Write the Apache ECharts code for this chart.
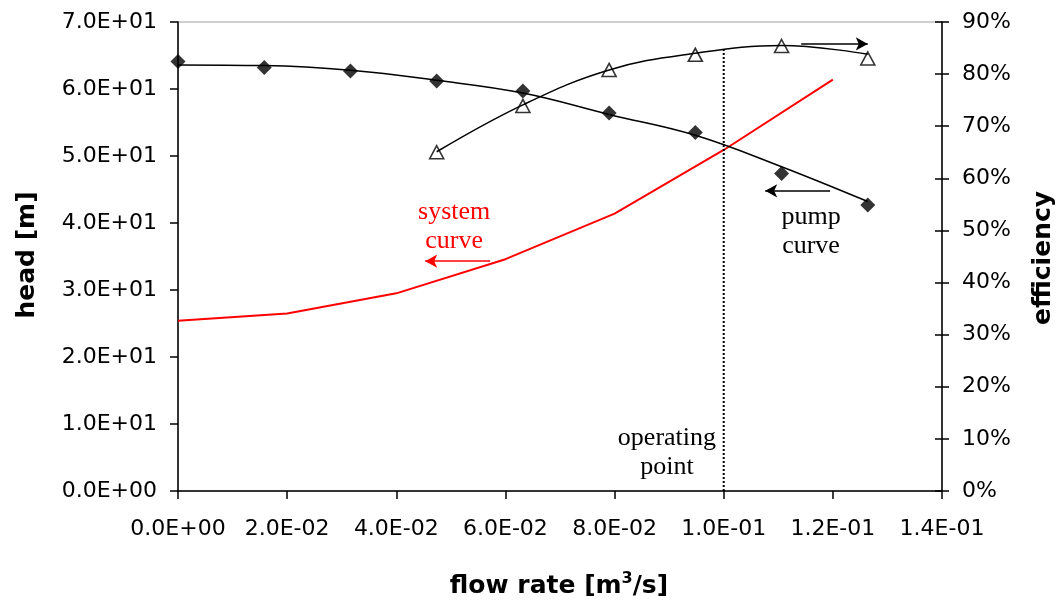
<!DOCTYPE html>
<html>
<head>
<meta charset="utf-8">
<script src="https://cdn.jsdelivr.net/npm/echarts@6/dist/echarts.min.js"></script>
<style>
html, body { margin: 0; background: #fff; }
#chart { width: 1061px; height: 607px; }
</style>
</head>
<body>
<div id="chart"></div>
<script>
// tick labels
const flowTicks = ['0.0E+00', '2.0E-02', '4.0E-02', '6.0E-02', '8.0E-02', '1.0E-01', '1.2E-01', '1.4E-01']
const headTicks = ['0.0E+00', '1.0E+01', '2.0E+01', '3.0E+01', '4.0E+01', '5.0E+01', '6.0E+01', '7.0E+01']
const effTicks = ['0%', '10%', '20%', '30%', '40%', '50%', '60%', '70%', '80%', '90%']

// pump curve (head, m)
const pumpFlow = [0, 0.0158, 0.0316, 0.0474, 0.0632, 0.079, 0.0948, 0.1106, 0.1264]
const pumpHead = [64.1, 63.2, 62.7, 61.2, 59.7, 56.4, 53.5, 47.4, 42.7]
const pumpTrend = [63.6, 63.5, 62.8, 61.3, 59.4, 56.2, 53.1, 48.4, 43.2]

// efficiency (%)
const effFlow = [0.0474, 0.0632, 0.079, 0.0948, 0.1106, 0.1264]
const effValue = [65.0, 73.9, 80.8, 83.7, 85.4, 83.0]
const effTrend = [65.1, 74.1, 80.8, 84.0, 85.5, 83.8]

// system curve (head, m)
const sysFlow = [0, 0.02, 0.04, 0.06, 0.08, 0.1, 0.12]
const sysHead = [25.4, 26.5, 29.5, 34.6, 41.4, 50.9, 61.4]

// operating point
const opFlow = 0.1
const opTop = 66.2

const zip = (xs, ys) => xs.map((x, i) => [x, ys[i]])

const sans = 'DejaVu Sans'
const serif = 'Liberation Serif'

let chart = echarts.init(document.getElementById('chart'))

const arrow = (from, to, color) => ({
    symbol: ['none', 'arrow'],
    symbolSize: [10, 12],
    silent: true,
    label: { show: false },
    lineStyle: { color: color, width: 1.6, type: 'solid' },
    data: [[{ coord: from }, { coord: to }]],
})

chart.setOption({
    animation: false,
    grid: {
        left: 178, right: 119, top: 22, bottom: 116,
        show: true, borderColor: '#a0a0a0', borderWidth: 1,
        outerBoundsMode: 'none',
    },
    xAxis: {
        type: 'value', min: 0, max: 0.14, interval: 0.02,
        axisLine: { lineStyle: { color: '#000', width: 1.5 }},
        axisTick: { length: 8, lineStyle: { color: '#000', width: 1.5 }},
        splitLine: { show: false },
        axisLabel: {
            margin: 27, color: '#000', fontFamily: sans, fontSize: 22,
            formatter: v => flowTicks[Math.round(v / 0.02)],
        },
    },
    yAxis: [{
        type: 'value', min: 0, max: 70, interval: 10,
        axisLine: { show: true, lineStyle: { color: '#000', width: 1.5 }},
        axisTick: { show: true, length: 8, lineStyle: { color: '#000', width: 1.5 }},
        splitLine: { show: false },
        axisLabel: {
            margin: 21, color: '#000', fontFamily: sans, fontSize: 22,
            formatter: v => headTicks[Math.round(v / 10)],
        },
    }, {
        type: 'value', position: 'right', min: 0, max: 90, interval: 10,
        axisLine: { show: true, lineStyle: { color: '#000', width: 1.5 }},
        axisTick: { show: true, length: 7, lineStyle: { color: '#000', width: 1.5 }},
        splitLine: { show: false },
        axisLabel: {
            margin: 20, color: '#000', fontFamily: sans, fontSize: 22,
            formatter: v => effTicks[Math.round(v / 10)],
        },
    }, {
        // inner half of the crossing ticks on the right axis
        type: 'value', position: 'right', min: 0, max: 90, interval: 10,
        axisLine: { show: false },
        axisTick: { show: true, inside: true, length: 7, lineStyle: { color: '#000', width: 1.5 }},
        splitLine: { show: false },
        axisLabel: { show: false },
    }],
    series: [{
        name: 'system curve',
        type: 'line',
        data: zip(sysFlow, sysHead),
        symbol: 'none',
        lineStyle: { color: '#ff0000', width: 2 },
        markLine: arrow([0.0572, 34.3], [0.0453, 34.3], '#ff0000'),
    }, {
        name: 'operating point',
        type: 'line',
        data: [[opFlow, 0], [opFlow, opTop]],
        symbol: 'none',
        lineStyle: { color: '#000', width: 2, type: 'dotted' },
    }, {
        name: 'pump trend',
        type: 'line',
        data: zip(pumpFlow, pumpTrend),
        smooth: 0.4,
        symbol: 'none',
        lineStyle: { color: '#000', width: 1.5 },
        markLine: arrow([0.1195, 44.8], [0.1076, 44.8], '#000'),
    }, {
        name: 'efficiency trend',
        type: 'line',
        yAxisIndex: 1,
        data: zip(effFlow, effTrend),
        smooth: 0.4,
        symbol: 'none',
        lineStyle: { color: '#000', width: 1.5 },
        markLine: arrow([0.1142, 85.8], [0.1264, 85.8], '#000'),
    }, {
        name: 'pump curve',
        type: 'scatter',
        data: zip(pumpFlow, pumpHead),
        symbol: 'diamond',
        symbolSize: [15, 15],
        itemStyle: { color: '#000' },
    }, {
        name: 'efficiency',
        type: 'scatter',
        yAxisIndex: 1,
        data: zip(effFlow, effValue),
        symbol: 'triangle',
        symbolSize: [14, 13],
        itemStyle: { color: '#fff', borderColor: '#000', borderWidth: 1.6 },
    }],
})

// annotations, anchored in data units (flow, head)
const notes = [
    { text: 'system\ncurve', at: [0.0506, 39.5], color: '#ff0000' },
    { text: 'pump\ncurve', at: [0.116, 38.7], color: '#000' },
    { text: 'operating\npoint', at: [0.0896, 5.7], color: '#000' },
]

let graphics = notes.map(n => {
    let p = chart.convertToPixel({ gridIndex: 0 }, n.at)
    return {
        type: 'text', x: p[0], y: p[1], silent: true,
        style: {
            text: n.text, fill: n.color, font: '26px ' + serif, lineHeight: 29,
            align: 'center', verticalAlign: 'middle',
        },
    }
})

graphics.push({
    type: 'text', x: 27, y: 255, rotation: Math.PI / 2, silent: true,
    style: {
        text: 'head [m]', fill: '#000', font: 'bold 25px ' + sans,
        align: 'center', verticalAlign: 'middle',
    },
}, {
    type: 'text', x: 1043, y: 258, rotation: Math.PI / 2, silent: true,
    style: {
        text: 'efficiency', fill: '#000', font: 'bold 25px ' + sans,
        align: 'center', verticalAlign: 'middle',
    },
}, {
    type: 'text', x: 559, y: 586, silent: true,
    style: {
        text: '{a|flow rate [m}{s|3}{a|/s]}',
        align: 'center', verticalAlign: 'middle',
        rich: {
            a: { fontFamily: sans, fontWeight: 'bold', fontSize: 25, fill: '#000', lineHeight: 28 },
            s: { fontFamily: sans, fontWeight: 'bold', fontSize: 16, fill: '#000', lineHeight: 16, padding: [0, 0, 14, 0] },
        },
    },
})

chart.setOption({ graphic: graphics })
</script>
</body>
</html>
